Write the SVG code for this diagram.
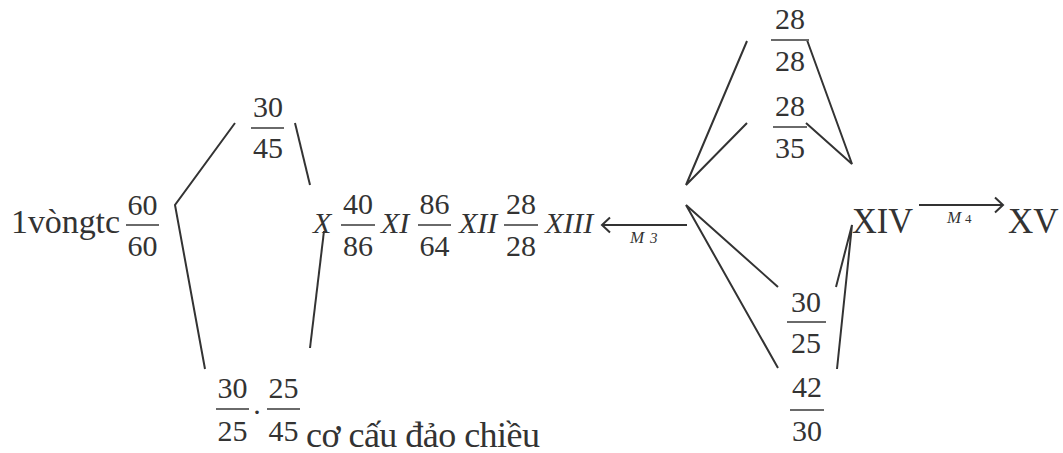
<svg xmlns="http://www.w3.org/2000/svg" width="1063" height="453" viewBox="0 0 1063 453">
<style>
text{font-family:"Liberation Serif","Times New Roman",serif;fill:#333}
.n{font-size:30px;text-anchor:middle}
.t{font-size:34px}
.w{font-size:36px}
.i{font-size:30px;font-style:italic}
.s{font-size:17px;font-style:italic}
.b{stroke:#6a6a6a;stroke-width:1.8;fill:none}
.c{stroke:#333;stroke-width:2;fill:none}
</style>
<defs><marker id="a" markerUnits="userSpaceOnUse" markerWidth="14" markerHeight="20" refX="11" refY="10" orient="auto"><path d="M3 2.500L11 10L3 17.500" fill="none" stroke="#333" stroke-width="2"/></marker></defs>
<g id="connectors">
<path class="c" d="M235 123L175 205L205 369"/>
<path class="c" d="M295 123L310 185"/>
<path class="c" d="M324 231L310 348"/>
<path class="c" d="M747 41L686 185L747 123"/>
<path class="c" d="M807 40L852 164L806 123"/>
<path class="c" d="M778 287L686 205L778 368"/>
<path class="c" d="M836 287L852 225L837 369"/>
<path class="c" d="M687 225H602" marker-end="url(#a)"/>
<path class="c" d="M919 205H1003" marker-end="url(#a)"/>
</g>
<g id="input"><text class="t" x="11" y="233" textLength="109">1vòngtc</text>
<path class="b" d="M126 225H159"/><text class="n" x="142.500" y="215">60</text><text class="n" x="142.500" y="256">60</text></g>
<g id="f3045"><path class="b" d="M251 128H284"/><text class="n" x="268" y="117">30</text><text class="n" x="268" y="158">45</text></g>
<g id="reverse"><path class="b" d="M216 409H249M267 409H300"/><text class="n" x="232.500" y="398">30</text><text class="n" x="232.500" y="441">25</text><text class="n" x="257" y="414">.</text><text class="n" x="283.500" y="398">25</text><text class="n" x="283.500" y="441">45</text>
<text class="w" x="306" y="447" textLength="234">cơ cấu đảo chiều</text></g>
<g id="chain">
<text class="i" x="313" y="233">X</text>
<path class="b" d="M341 225H375M418 225H451M504 225H538"/>
<text class="n" x="358" y="214">40</text><text class="n" x="358" y="256">86</text>
<text class="i" x="381" y="233">XI</text>
<text class="n" x="434.500" y="214">86</text><text class="n" x="434.500" y="256">64</text>
<text class="i" x="459" y="233">XII</text>
<text class="n" x="521" y="214">28</text><text class="n" x="521" y="256">28</text>
<text class="i" x="545" y="233">XIII</text>
<text class="s" x="630" y="243">M</text><text class="s" style="font-size:15px" x="650" y="243">3</text>
</g>
<g id="f2828"><path class="b" d="M771 40H809"/><text class="n" x="790" y="29">28</text><text class="n" x="790" y="71">28</text></g>
<g id="f2835"><path class="b" d="M773 127H807"/><text class="n" x="790" y="116">28</text><text class="n" x="790" y="158">35</text></g>
<g id="f3025"><path class="b" d="M787 322H826"/><text class="n" x="806" y="312">30</text><text class="n" x="806" y="353">25</text></g>
<g id="f4230"><path class="b" d="M790 410H824"/><text class="n" x="807" y="397">42</text><text class="n" x="807" y="441">30</text></g>
<g id="out"><text class="t" style="font-size:35px" x="852" y="233" textLength="61" lengthAdjust="spacingAndGlyphs">XIV</text><text class="t" style="font-size:35px" x="1008" y="233">XV</text>
<text class="s" x="947" y="223">M</text><text x="965" y="223" font-size="13">4</text></g>
</svg>
